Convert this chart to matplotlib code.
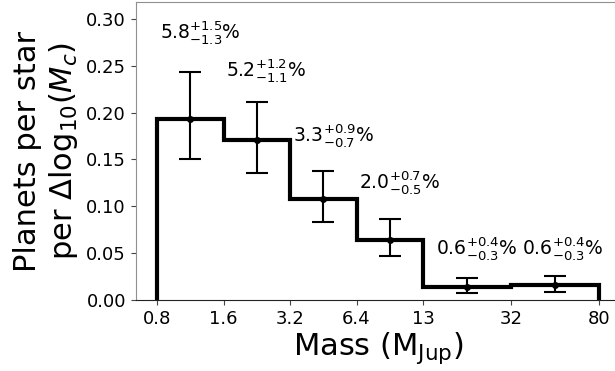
import matplotlib
matplotlib.use("Agg")
import matplotlib.pyplot as plt
import numpy as np

# bin edges in Jupiter masses and occurrence per dex
bin_edges = [0.8, 1.6, 3.2, 6.4, 12.8, 32, 80]
rate = [0.193, 0.171, 0.108, 0.064, 0.0139, 0.0157]
err_hi = [0.050, 0.040, 0.030, 0.022, 0.010, 0.0095]
err_lo = [0.043, 0.035, 0.025, 0.017, 0.006, 0.0067]

# percent labels per bin
pct = ["5.8", "5.2", "3.3", "2.0", "0.6", "0.6"]
pct_hi = ["1.5", "1.2", "0.9", "0.7", "0.4", "0.4"]
pct_lo = ["1.3", "1.1", "0.7", "0.5", "0.3", "0.3"]
label_x = [0.825, 1.65, 3.3, 6.6, 14.6, 35.9]
label_y = [0.286, 0.245, 0.176, 0.125, 0.055, 0.055]

tick_vals = [0.8, 1.6, 3.2, 6.4, 12.8, 32, 80]
tick_labels = ["0.8", "1.6", "3.2", "6.4", "13", "32", "80"]

fig = plt.figure(figsize=(6.15, 3.71), dpi=100)
ax = fig.add_axes([0.2205, 0.1914, 0.788, 0.803])

ax.stairs(rate, bin_edges, color="black", lw=3, baseline=0)

centers = np.sqrt(np.array(bin_edges[:-1]) * np.array(bin_edges[1:]))
ax.errorbar(centers, rate, yerr=[err_lo, err_hi], fmt="o", color="black",
            ms=4, lw=1.5, capsize=8, capthick=1.5)

for x, y, p, hi, lo in zip(label_x, label_y, pct, pct_hi, pct_lo):
    ax.text(x, y, r"$\mathregular{%s}^{+%s}_{-%s}$%%" % (p, hi, lo),
            fontsize=13.5, ha="left", va="center")

ax.set_xscale("log")
ax.set_xlim(0.64, 100)
ax.set_ylim(0, 0.318)
ax.set_xticks(tick_vals)
ax.set_xticklabels(tick_labels)
ax.xaxis.set_minor_locator(matplotlib.ticker.NullLocator())
ax.set_yticks([0, 0.05, 0.10, 0.15, 0.20, 0.25, 0.30])
ax.set_yticklabels(["0.00", "0.05", "0.10", "0.15", "0.20", "0.25", "0.30"])
ax.tick_params(labelsize=13, color="#444444")

for s in ax.spines.values():
    s.set_color("#909090")
ax.spines["bottom"].set_color("#222222")

ax.set_xlabel(r"Mass (M$_{\mathregular{Jup}}$)", fontsize=22, labelpad=2)
ax.set_ylabel("Planets per star\n" + r"per $\Delta\mathregular{log}_{10}(M_c)$",
              fontsize=22, labelpad=4)

plt.savefig("out.png", dpi=100)
